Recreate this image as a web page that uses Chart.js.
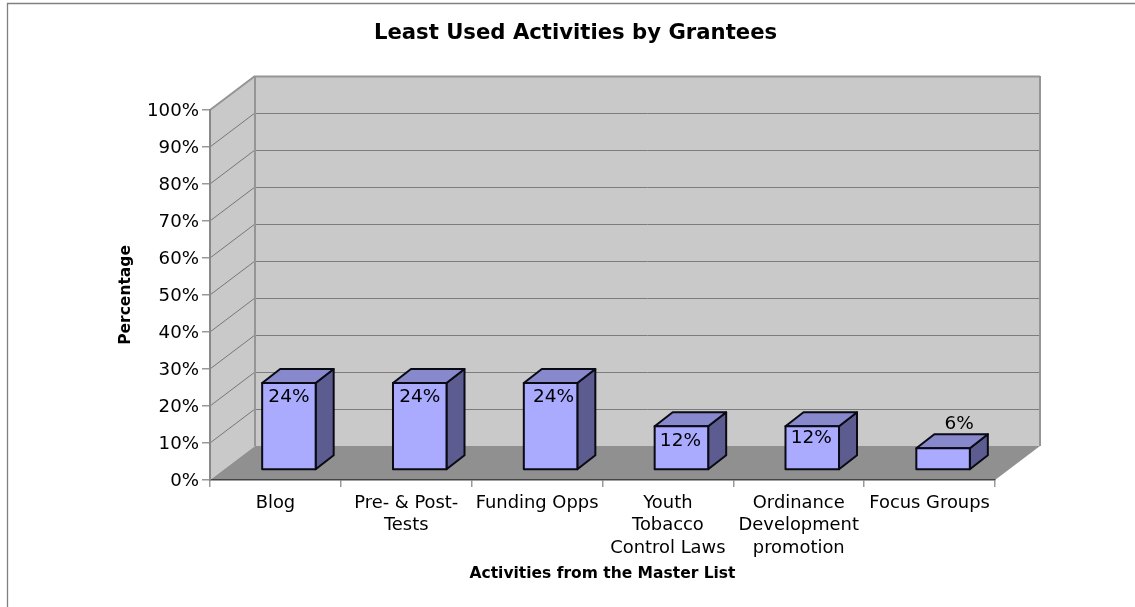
<!DOCTYPE html>
<html>
<head>
<meta charset="utf-8">
<style>html,body{margin:0;padding:0;background:#fff}#wrap{width:1135px;height:607px;position:relative}</style>
<script src="https://cdn.jsdelivr.net/npm/chart.js@4"></script>
</head>
<body>
<div id="wrap"><canvas id="c" width="1135" height="607"></canvas></div>
<script>
const categories = ["Blog", ["Pre- & Post-", "Tests"], "Funding Opps", ["Youth", "Tobacco", "Control Laws"], ["Ordinance", "Development", "promotion"], "Focus Groups"];
const percentages = [23.5, 23.5, 23.5, 11.8, 11.8, 5.9];
const chartTitle = "Least Used Activities by Grantees";
const xTitle = "Activities from the Master List";
const yTitle = "Percentage";

const FONT = '"DejaVu Sans", sans-serif';
const labelNudge = [[0, 14.5], [0, 14.5], [3, 14.5], [-1, 15], [-1, 12], [16, -24]];
const wallDepth = {x: 45, y: -34};
const barPlane = {x: 13.5, y: -10};
const barDepth = {x: 18, y: -14};
const EDGE = '#0a0a14';
const shifted = new WeakSet();

function poly(ctx, pts, fill, stroke, lw) {
  ctx.beginPath();
  pts.forEach((p, i) => i ? ctx.lineTo(p[0], p[1]) : ctx.moveTo(p[0], p[1]));
  ctx.closePath();
  if (fill) { ctx.fillStyle = fill; ctx.fill(); }
  if (stroke) { ctx.strokeStyle = stroke; ctx.lineWidth = lw; ctx.lineJoin = 'round'; ctx.stroke(); }
}

const bar3d = {
  id: 'bar3d',
  afterLayout(chart) {
    // centre the title over the whole figure rather than over the plot
    if (chart.titleBlock) { chart.titleBlock.left = 156; chart.titleBlock.right = 995; }
  },
  beforeDraw(chart) {
    const {ctx, chartArea: a, scales: {y}} = chart;
    const dx = wallDepth.x, dy = wallDepth.y;
    const items = y.getLabelItems();
    if (!shifted.has(items)) {
      items.forEach(it => { it.options.translation = [it.options.translation[0], it.options.translation[1] + 1.5]; });
      shifted.add(items);
    }
    ctx.save();
    // page frame
    ctx.strokeStyle = '#808080'; ctx.lineWidth = 1.3;
    ctx.beginPath(); ctx.moveTo(7.5, 607); ctx.lineTo(7.5, 3.5); ctx.lineTo(1135, 3.5); ctx.stroke();
    // walls
    poly(ctx, [[a.left, a.top], [a.left + dx, a.top + dy], [a.left + dx, a.bottom + dy], [a.left, a.bottom]], '#c9c9c9');
    poly(ctx, [[a.left + dx, a.top + dy], [a.right + dx, a.top + dy], [a.right + dx, a.bottom + dy], [a.left + dx, a.bottom + dy]], '#c9c9c9');
    poly(ctx, [[a.left, a.bottom], [a.left + dx, a.bottom + dy], [a.right + dx, a.bottom + dy], [a.right, a.bottom]], '#909090');
    // grid lines running along side and back walls
    y.ticks.forEach(t => {
      const py = y.getPixelForValue(t.value);
      if (t.value === 0) return;
      ctx.strokeStyle = '#777777'; ctx.lineWidth = 1;
      ctx.beginPath(); ctx.moveTo(a.left, py); ctx.lineTo(a.left + dx, py + dy); ctx.stroke();
      const gy = Math.round(py + dy) + 0.5;
      ctx.strokeStyle = t.value === 100 ? '#959595' : '#7c7c7c'; ctx.lineWidth = t.value === 100 ? 2 : 1;
      ctx.beginPath(); ctx.moveTo(a.left + dx, gy); ctx.lineTo(a.right + dx, gy); ctx.stroke();
    });
    // wall edges
    ctx.strokeStyle = '#959595'; ctx.lineWidth = 2;
    ctx.beginPath();
    ctx.moveTo(a.left, a.top); ctx.lineTo(a.left + dx, a.top + dy);
    ctx.moveTo(a.left + dx, a.top + dy); ctx.lineTo(a.left + dx, a.bottom + dy);
    ctx.moveTo(a.right + dx, a.top + dy); ctx.lineTo(a.right + dx, a.bottom + dy);
    ctx.stroke();
    ctx.restore();
  },
  beforeDatasetsDraw(chart) {
    const ctx = chart.ctx;
    const meta = chart.getDatasetMeta(0);
    ctx.save();
    meta.data.forEach(el => {
      const {x, y, base, width} = el.getProps(['x', 'y', 'base', 'width'], false);
      const l = x - width / 2 + barPlane.x, r = x + width / 2 + barPlane.x;
      const t = y + barPlane.y, b = base + barPlane.y;
      const dx = barDepth.x, dy = barDepth.y;
      poly(ctx, [[r, t], [r + dx, t + dy], [r + dx, b + dy], [r, b]], '#5c5c90', EDGE, 2);
      poly(ctx, [[l, t], [l + dx, t + dy], [r + dx, t + dy], [r, t]], '#8888cc', EDGE, 2);
    });
    ctx.restore();
    ctx.save();
    ctx.translate(barPlane.x, barPlane.y);
  },
  afterDatasetsDraw(chart) {
    const ctx = chart.ctx;
    ctx.restore();
    const meta = chart.getDatasetMeta(0);
    ctx.save();
    meta.data.forEach((el, i) => {
      const {x, y, base, width} = el.getProps(['x', 'y', 'base', 'width'], false);
      const l = x - width / 2 + barPlane.x, r = x + width / 2 + barPlane.x;
      poly(ctx, [[l, y + barPlane.y], [r, y + barPlane.y], [r, base + barPlane.y], [l, base + barPlane.y]], null, EDGE, 2);
      ctx.font = '18.5px ' + FONT;
      ctx.fillStyle = '#000';
      ctx.textAlign = 'center';
      ctx.textBaseline = 'middle';
      const n = labelNudge[i];
      ctx.fillText(Math.round(percentages[i]) + '%', x + barPlane.x + n[0], y + barPlane.y + n[1]);
    });
    ctx.restore();
  }
};

new Chart(document.getElementById('c'), {
  type: 'bar',
  data: {
    labels: categories,
    datasets: [{
      data: percentages,
      backgroundColor: '#aaaaff',
      borderWidth: 0,
      inflateAmount: 0,
      barPercentage: 0.409,
      categoryPercentage: 1,
      clip: false
    }]
  },
  options: {
    responsive: false,
    animation: false,
    devicePixelRatio: 1,
    layout: {padding: {left: 117, right: 140, top: 0, bottom: 24}},
    plugins: {
      legend: {display: false},
      tooltip: {enabled: false},
      title: {
        display: true,
        text: chartTitle,
        color: '#000',
        font: {family: FONT, size: 21.2, weight: 'bold', lineHeight: 1.2},
        padding: {top: 21, bottom: 63.5}
      }
    },
    scales: {
      x: {
        offset: true,
        afterFit(s) { s.height = 103; },
        grid: {display: true, drawOnChartArea: false, drawTicks: true, tickLength: 7, color: '#999999', lineWidth: 1.5, offset: true},
        border: {display: true, color: '#444444', width: 1.5},
        ticks: {color: '#000', font: {family: FONT, size: 17.9, lineHeight: 1.25}, autoSkip: false, maxRotation: 0, minRotation: 0, padding: 5},
        title: {display: true, text: xTitle, color: '#000', font: {family: FONT, size: 15.5, weight: 'bold', lineHeight: 1.2}, padding: 0}
      },
      y: {
        min: 0, max: 100,
        afterFit(s) { s.width = 93; },
        grid: {display: true, drawOnChartArea: false, drawTicks: true, tickLength: 8, color: '#999999', lineWidth: 1.5},
        border: {display: true, color: '#888888', width: 2},
        ticks: {stepSize: 10, color: '#000', font: {family: FONT, size: 18.2}, padding: 3, callback: v => v + '%'},
        title: {display: true, text: yTitle, color: '#000', font: {family: FONT, size: 15.5, weight: 'bold', lineHeight: 1.2}, padding: 0}
      }
    }
  },
  plugins: [bar3d]
});
</script>
</body>
</html>
